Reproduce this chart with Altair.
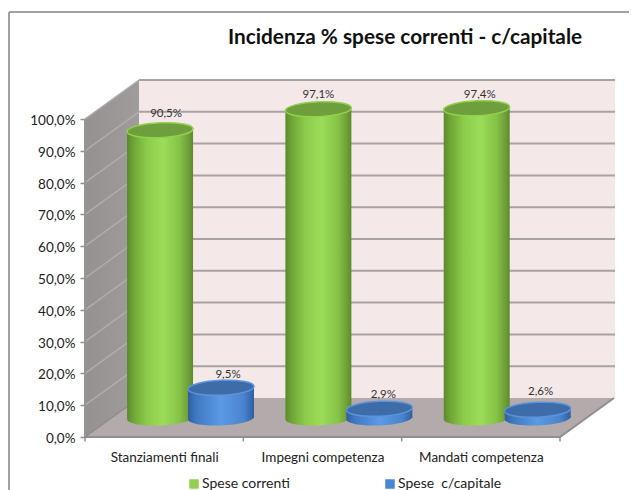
import altair as alt
import pandas as pd

TITLE = "Incidenza % spese correnti - c/capitale"
CATEGORIES = ["Stanziamenti finali", "Impegni competenza", "Mandati competenza"]
SERIES = ["Spese correnti", "Spese\u00a0\u00a0c/capitale"]
CORRENTI = [90.5, 97.1, 97.4]
CAPITALE = [9.5, 2.9, 2.6]
LABELS_CORRENTI = ["90,5%", "97,1%", "97,4%"]
LABELS_CAPITALE = ["9,5%", "2,9%", "2,6%"]
Y_TICKS = list(range(0, 101, 10))

PX_X = 158.33
PX_Y = 3.18
XMAX = 530 / PX_X
YMAX = 357 / PX_Y
DX = 54 / PX_X
DY = 39 / PX_Y
BASE = 19 / PX_Y
HALF = 33 / PX_X
RIGHT = 3.0
ELL = "M-1,0.04 A1,0.225 -2.5 1 1 1,-0.04 A1,0.225 -2.5 1 1 -1,0.04 Z"
SIZE = 66 ** 2

X_AXIS = alt.Axis(values=[0.5, 1.5, 2.5], tickSize=0, domain=False, grid=False,
                  labelExpr="['%s','%s','%s'][floor(datum.value)]" % tuple(CATEGORIES),
                  labelFont="Lato", labelFontSize=13.5, labelColor="#222222", labelPadding=13)
Y_AXIS = alt.Axis(values=Y_TICKS, tickSize=5, tickColor="#8f8f8f", tickWidth=1.5, domain=False, grid=False,
                  labelExpr="replace(format(datum.value,'.1f'),'.',',')+'%'",
                  labelFont="Lato", labelFontSize=13.5, labelColor="#222222", labelPadding=5, labelOffset=1.5)


def X(field="x"):
    return alt.X(field + ":Q", scale=alt.Scale(domain=[0, XMAX], nice=False, zero=False), axis=X_AXIS, title=None)


def Y(field="y"):
    return alt.Y(field + ":Q", scale=alt.Scale(domain=[0, YMAX], nice=False, zero=False), axis=Y_AXIS, title=None)


def grad(stops):
    return alt.Gradient(gradient="linear", x1=0, x2=1, y1=0, y2=0,
                        stops=[alt.GradientStop(offset=o, color=c) for o, c in stops])


def df(**k):
    return alt.Data(values=pd.DataFrame(k).to_dict("records"))


GREEN = grad([(0, "#5c8a2c"), (0.1, "#6fa636"), (0.3, "#8ccb4b"), (0.55, "#9bdd58"), (0.8, "#86c246"), (0.93, "#6f9f38"), (1, "#5c8a2c")])
BLUE = grad([(0, "#2f5f9e"), (0.12, "#3f78c0"), (0.5, "#5b9ae6"), (0.85, "#4a82cc"), (1, "#2f5f9e")])

layers = []

# back wall
layers.append(alt.Chart(df(x=[DX], x2=[XMAX], y=[DY], y2=[YMAX])).mark_rect(fill="#f4e8e8").encode(x=X(), x2="x2:Q", y=Y(), y2="y2:Q"))
# left wall
layers.append(alt.Chart(df(x=[0, DX], y=[0, DY], y2=[100, YMAX])).mark_area(
    fill=grad([(0, "#959191"), (1, "#a09c9c")])).encode(x=X(), y=Y(), y2="y2:Q"))
# floor
layers.append(alt.Chart(df(x=[0, DX, RIGHT, RIGHT + DX], y=[0, 0, 0, DY], y2=[0, DY, DY, DY])).mark_area(fill="#b3abab").encode(x=X(), y=Y(), y2="y2:Q"))

# grid lines
for t in Y_TICKS[1:]:
    layers.append(alt.Chart(df(x=[DX, XMAX], y=[t + DY, t + DY])).mark_line(color="#a9a2a2", strokeWidth=2).encode(x=X(), y=Y()))
    layers.append(alt.Chart(df(x=[0, DX], y=[t, t + DY])).mark_line(color="#b0acac", strokeWidth=1.5).encode(x=X(), y=Y()))
layers.append(alt.Chart(df(x=[0, DX], y=[0, DY])).mark_line(color="#8f8b8b", strokeWidth=1.5).encode(x=X(), y=Y()))
layers.append(alt.Chart(df(x=[0, 0], y=[0, 100])).mark_line(color="#999595", strokeWidth=2).encode(x=X(), y=Y()))
# floor edges
layers.append(alt.Chart(df(x=[0, RIGHT, RIGHT + DX], y=[0, 0, DY])).mark_line(color="#8f8f8f", strokeWidth=2).encode(x=X(), y=Y()))
# x ticks
for i in range(4):
    layers.append(alt.Chart(df(x=[i], y=[0], y2=[-1.4])).mark_rule(color="#8f8f8f", strokeWidth=1.5).encode(x=X(), y=Y(), y2="y2:Q"))


def cylinders(values, off, body, top, rim):
    n = len(values)
    xs = [i + off for i in range(n)]
    d = df(x=xs, xa=[v - HALF for v in xs], xb=[v + HALF for v in xs],
           y=[BASE] * n, ytop=[BASE + v for v in values])
    out = [
        alt.Chart(d).mark_point(shape=ELL, size=SIZE, filled=True, fill=body, opacity=1).encode(x=X(), y=Y()),
        alt.Chart(d).mark_rect(fill=body).encode(x=X("xa"), x2="xb:Q", y=Y(), y2="ytop:Q"),
        alt.Chart(d).mark_point(shape=ELL, size=SIZE, filled=True, fill=top, stroke=rim, strokeWidth=1.5, opacity=1).encode(x=X(), y=Y("ytop")),
    ]
    return out


layers += cylinders(CORRENTI, 0.474, GREEN, "#6f9e3c", "#8fd24e")
layers += cylinders(CAPITALE, 0.859, BLUE, "#3e6ca8", "#5b94dc")

# data labels
GREEN_NUDGE = [(6, -16), (0, -14), (3, -13)]
BLUE_NUDGE = [(7, -13), (4, -14), (3, -18)]
for vals, labs, off, nudge in [(CORRENTI, LABELS_CORRENTI, 0.474, GREEN_NUDGE), (CAPITALE, LABELS_CAPITALE, 0.859, BLUE_NUDGE)]:
    for i, (v, l, (dx, dy)) in enumerate(zip(vals, labs, nudge)):
        layers.append(alt.Chart(df(x=[i + off], y=[BASE + v], t=[l])).mark_text(
            font="Lato", fontSize=11.5, color="#333333", dx=dx, dy=dy).encode(x=X(), y=Y(), text="t:N"))

# frame
layers.append(alt.Chart(df(a=[0])).mark_rule(color="#a0a0a0", strokeWidth=2).encode(
    x=alt.value(-76), y=alt.value(-68), y2=alt.value(420)))
layers.append(alt.Chart(df(a=[0])).mark_rule(color="#a0a0a0", strokeWidth=2).encode(
    x=alt.value(-76), x2=alt.value(544), y=alt.value(-68)))

# title
layers.append(alt.Chart(df(t=[TITLE])).mark_text(font="Lato", fontSize=20.8, fontWeight="bold", color="#111111",
                                                 align="left", baseline="middle").encode(
    x=alt.value(143), y=alt.value(-42), text="t:N"))

# legend carrier
layers.append(alt.Chart(df(x=[0, 0], y=[0, 0], s=SERIES)).mark_point(filled=True, size=0, opacity=1).encode(
    x=X(), y=Y(),
    color=alt.Color("s:N", scale=alt.Scale(domain=SERIES, range=["#92d050", "#4a86d6"]),
                    legend=alt.Legend(orient="none", legendX=102, legendY=397, direction="horizontal", title=None,
                                      symbolType="square", symbolSize=90, symbolOpacity=1, columnPadding=93, labelOffset=1,
                                      labelFont="Lato", labelFontSize=14, labelColor="#222222", labelLimit=200)),
))

chart = alt.layer(*layers).properties(
    width=530, height=357,
    autosize="none",
    padding={"left": 77, "top": 72, "right": 14, "bottom": 53},
    background="white",
).configure_view(stroke=None)

chart.save("out.html", embed_options={"renderer": "svg", "actions": False})
